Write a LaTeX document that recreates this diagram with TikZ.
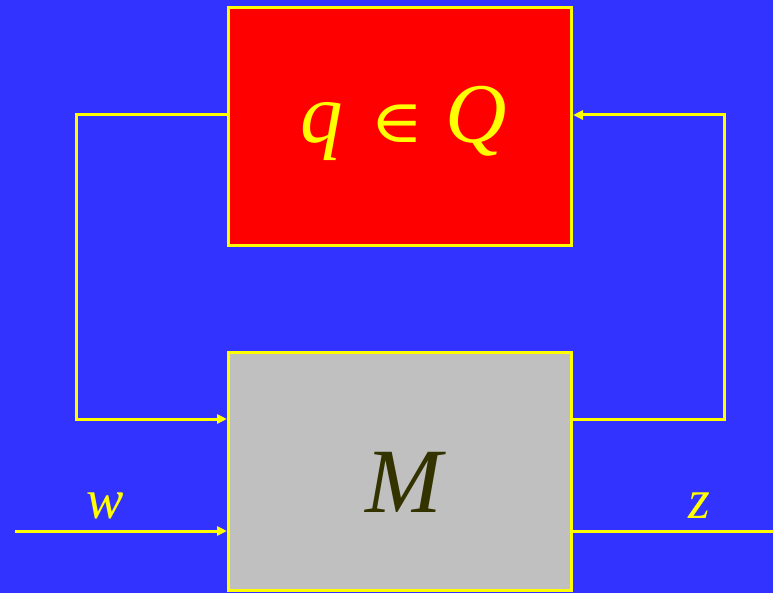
\documentclass[tikz,border=0pt]{standalone}
\usepackage{fontspec}
\setmainfont{Liberation Serif}
\newfontfamily\symfont{DejaVu Serif}
\usetikzlibrary{arrows.meta}
\definecolor{bgblue}{HTML}{3333FF}
\definecolor{ylw}{HTML}{FFFF00}
\definecolor{mgray}{HTML}{C0C0C0}
\definecolor{mtext}{HTML}{333300}
\begin{document}
\begin{tikzpicture}[x=1pt,y=-1pt,
  blk/.style={draw=ylw,line width=3pt,minimum width=343pt,inner sep=0pt},
  wire/.style={draw=ylw,line width=3pt},
  arr/.style={wire,-{Triangle[length=10pt,width=9pt]}},
  big/.style={text=ylw,inner sep=0pt,font=\fontsize{85}{85}\selectfont\itshape},
  lbl/.style={text=ylw,font=\fontsize{56}{56}\selectfont\itshape}]
\fill[bgblue] (0,0) rectangle (773,593);
\useasboundingbox (0,0) rectangle (773,593);
\node[blk,fill=red,minimum height=238pt] (Q) at (400,126.5) {};
\node[blk,fill=mgray,minimum height=238pt] (M) at (400,471.5) {};
\node[big,anchor=base west] (qq) at (300,143) {q};
\node[text=ylw,inner sep=0pt,anchor=base,font=\symfont\fontsize{60}{60}\selectfont] (in) at (397,143) {\scalebox{1.2}[1]{∈}};
\node[big,anchor=base east] (qQ) at (507,143) {Q};
\node[text=mtext,font=\fontsize{92}{92}\selectfont\itshape] (mt) at (404,482) {M};
\coordinate (l1) at (76,115);
\coordinate (l2) at (76,419);
\coordinate (r1) at (724,419);
\coordinate (r2) at (724,115);
\coordinate (win) at (15,531);
\coordinate (zout) at (773,531);
\draw[arr] (Q.west |- l1) -- (l1) -- (l2) -- (M.west |- l2);
\draw[arr] (M.east |- r1) -- (r1) -- (r2) -- (Q.east |- r2);
\draw[arr] (win) -- (M.west |- win);
\draw[wire] (M.east |- zout) -- (zout);
\node[lbl] (w) at (105,506) {w};
\node[lbl] (z) at (699,506) {z};
\end{tikzpicture}
\end{document}
